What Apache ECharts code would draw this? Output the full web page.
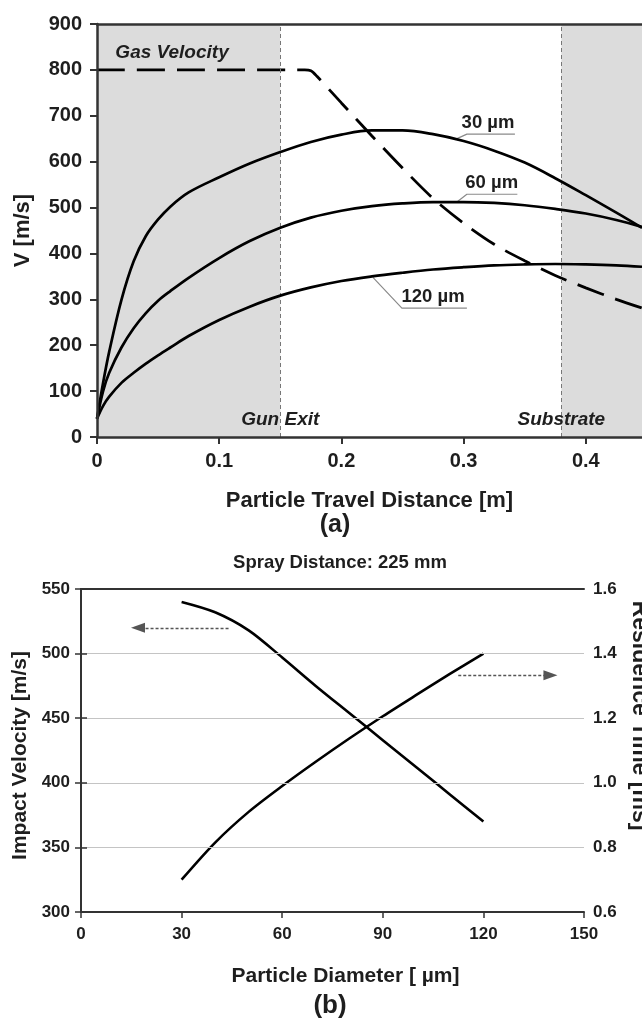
<!DOCTYPE html>
<html>
<head>
<meta charset="utf-8">
<script src="https://cdn.jsdelivr.net/npm/echarts@6/dist/echarts.min.js"></script>
<style>
html,body{margin:0;padding:0;background:#fff;}
#chart{width:642px;height:1020px;}
</style>
</head>
<body>
<div id="chart"></div>
<script>
// ---------- Panel (a): particle / gas velocity vs travel distance ----------
const distance = [0, 0.005, 0.01, 0.02, 0.03, 0.04, 0.05, 0.06, 0.075, 0.1, 0.125, 0.15, 0.175, 0.2, 0.225, 0.25, 0.275, 0.3, 0.325, 0.35, 0.375, 0.4, 0.425, 0.446];
const vel30  = [40, 118, 186, 299, 383, 438, 474, 502, 533, 566, 596, 621, 643, 659, 668, 668, 660, 645, 624, 598, 564, 527, 489, 456];
const vel60  = [40, 100, 140, 195, 237, 270, 297, 318, 347, 390, 427, 456, 478, 493, 503, 509, 512, 512, 510, 505, 497, 487, 473, 458];
const vel120 = [40, 68, 88, 118, 140, 160, 178, 195, 220, 255, 284, 308, 326, 340, 350, 358, 365, 370, 374, 376, 377, 376, 374, 371];
const gasDistance = [0, 0.17, 0.175, 0.18, 0.2, 0.225, 0.25, 0.275, 0.3, 0.325, 0.35, 0.375, 0.4, 0.425, 0.446];
const gasVel      = [800, 800, 798, 786, 728, 656, 586, 520, 466, 420, 384, 352, 325, 300, 281];
const gunExit = 0.15;
const substrate = 0.38;
const distTicks = ['0', '0.1', '0.2', '0.3', '0.4'];

// ---------- Panel (b): impact velocity & residence time vs diameter ----------
const diameter  = [30, 40, 50, 60, 70, 80, 90, 100, 110, 120];
const impactVel = [540, 532, 518, 497, 475, 454, 433, 412, 391, 370];
const residence = [0.70, 0.815, 0.91, 0.99, 1.065, 1.137, 1.206, 1.272, 1.337, 1.40];

const zip = (xs, ys) => xs.map((x, i) => [x, ys[i]]);

const BOLD = 'bold';
const FONT = 'Liberation Sans';
const AX = '#333';
const TXT = '#1e1e1e';

const chart = echarts.init(document.getElementById('chart'), null, {renderer: 'canvas'});

const leader = (pts) => ({
  type: 'line', xAxisIndex: 0, yAxisIndex: 0, data: pts, symbol: 'none', silent: true,
  lineStyle: {color: '#8a8a8a', width: 1.2}, z: 3, animation: false
});
const curve = (name, data) => ({
  name, type: 'line', xAxisIndex: 0, yAxisIndex: 0, data, smooth: 0.35, symbol: 'none',
  lineStyle: {color: '#000', width: 2.7}, z: 5, animation: false
});
const annoLabel = (extra) => Object.assign({
  show: true, position: 'inside', formatter: p => p.data[2], fontWeight: BOLD, color: TXT,
  fontFamily: FONT, textBorderWidth: 0, textShadowBlur: 0, opacity: 1
}, extra);

const option = {
  backgroundColor: '#fff',
  animation: false,
  textStyle: {fontFamily: FONT},
  grid: [
    {left: 97, top: 24, width: 545, height: 413, outerBoundsMode: 'none', containLabel: false},
    {left: 81, top: 589, width: 503, height: 323, outerBoundsMode: 'none', containLabel: false}
  ],
  xAxis: [
    {
      gridIndex: 0, type: 'value', min: 0, max: 0.446, interval: 0.1, z: 10,
      name: 'Particle Travel Distance [m]', nameLocation: 'middle', nameGap: 53,
      nameTextStyle: {fontSize: 22, fontWeight: BOLD, color: TXT, fontFamily: FONT},
      axisLine: {lineStyle: {color: AX, width: 2.5}},
      axisTick: {length: 7, lineStyle: {color: AX, width: 2}},
      axisLabel: {fontSize: 20, fontWeight: BOLD, color: TXT, margin: 14, showMaxLabel: false,
        formatter: v => { const s = distTicks.find(t => Math.abs(parseFloat(t) - v) < 1e-6); return s === undefined ? '' : s; }},
      splitLine: {show: false}
    },
    {
      gridIndex: 0, type: 'value', position: 'top', min: 0, max: 0.446, z: 10,
      axisLine: {lineStyle: {color: AX, width: 2.5}}, axisTick: {show: false}, axisLabel: {show: false}, splitLine: {show: false}
    },
    {
      gridIndex: 1, type: 'value', min: 0, max: 150, interval: 30, z: 10,
      name: 'Particle Diameter [ \u00b5m]', nameLocation: 'middle', nameGap: 54,
      nameTextStyle: {fontSize: 21, fontWeight: BOLD, color: TXT, fontFamily: FONT, padding: [0, 0, 0, 26]},
      axisLine: {lineStyle: {color: AX, width: 2}},
      axisTick: {length: 6, lineStyle: {color: AX, width: 1.5}},
      axisLabel: {fontSize: 17, fontWeight: BOLD, color: TXT, margin: 14},
      splitLine: {show: false}
    },
    {
      gridIndex: 1, type: 'value', position: 'top', min: 0, max: 150, z: 10,
      axisLine: {lineStyle: {color: AX, width: 2}}, axisTick: {show: false}, axisLabel: {show: false}, splitLine: {show: false}
    }
  ],
  yAxis: [
    {
      gridIndex: 0, type: 'value', min: 0, max: 900, interval: 100, z: 10,
      name: 'V [m/s]', nameLocation: 'middle', nameGap: 63, nameRotate: 90,
      nameTextStyle: {fontSize: 22, fontWeight: BOLD, color: TXT, fontFamily: FONT},
      axisLine: {lineStyle: {color: AX, width: 2.5}},
      axisTick: {length: 7, lineStyle: {color: AX, width: 2}},
      axisLabel: {fontSize: 20, fontWeight: BOLD, color: TXT, margin: 15},
      splitLine: {show: false}
    },
    {
      gridIndex: 1, type: 'value', min: 300, max: 550, interval: 50, z: 10,
      name: 'Impact Velocity [m/s]', nameLocation: 'middle', nameGap: 48, nameRotate: 90,
      nameTextStyle: {fontSize: 21, fontWeight: BOLD, color: TXT, fontFamily: FONT, padding: [0, 10, 0, 0]},
      axisLine: {lineStyle: {color: AX, width: 2}},
      axisTick: {length: 6, lineStyle: {color: AX, width: 1.5}},
      axisLabel: {fontSize: 17, fontWeight: BOLD, color: TXT, margin: 11},
      splitLine: {show: true, lineStyle: {color: '#c4c4c4', width: 1}}
    },
    {
      gridIndex: 1, type: 'value', position: 'right', min: 0.6, max: 1.6, interval: 0.2, z: 10,
      name: 'Residence Time [ms]', nameLocation: 'middle', nameGap: 44, nameRotate: -90,
      nameTextStyle: {fontSize: 23, fontWeight: BOLD, color: TXT, fontFamily: FONT, padding: [0, 70, 0, 0]},
      axisLine: {lineStyle: {color: AX, width: 2}},
      axisTick: {length: 6, lineStyle: {color: AX, width: 1.5}},
      axisLabel: {fontSize: 17, fontWeight: BOLD, color: TXT, margin: 9, formatter: v => v.toFixed(1)},
      splitLine: {show: false}
    }
  ],
  graphic: [
    {type: 'text', x: 335, y: 525, style: {text: '(a)', fontSize: 25, fontWeight: BOLD, fontFamily: FONT, fill: TXT, textAlign: 'center', textVerticalAlign: 'middle'}},
    {type: 'text', x: 340, y: 563, style: {text: 'Spray Distance: 225 mm', fontSize: 18.5, fontWeight: BOLD, fontFamily: FONT, fill: TXT, textAlign: 'center', textVerticalAlign: 'middle'}},
    {type: 'text', x: 330, y: 1006, style: {text: '(b)', fontSize: 26, fontWeight: BOLD, fontFamily: FONT, fill: TXT, textAlign: 'center', textVerticalAlign: 'middle'}}
  ],
  series: [
    {
      name: 'Gas Velocity', type: 'line', xAxisIndex: 0, yAxisIndex: 0,
      data: zip(gasDistance, gasVel), smooth: 0.3, symbol: 'none', z: 4,
      lineStyle: {color: '#000', width: 2.8, type: [28, 12]},
      markArea: {
        silent: true, itemStyle: {color: '#dcdcdc'},
        data: [[{xAxis: 0}, {xAxis: gunExit}], [{xAxis: substrate}, {xAxis: 0.446}]]
      },
      markLine: {
        silent: true, symbol: 'none', label: {show: false},
        lineStyle: {color: '#777', width: 1, type: [4, 3]},
        data: [{xAxis: gunExit}, {xAxis: substrate}]
      }
    },
    curve('30 \u00b5m', zip(distance, vel30)),
    curve('60 \u00b5m', zip(distance, vel60)),
    curve('120 \u00b5m', zip(distance, vel120)),
    leader([[0.2928, 648], [0.3027, 660], [0.342, 660]]),
    leader([[0.2945, 512], [0.3027, 529], [0.344, 529]]),
    leader([[0.2258, 348], [0.2495, 281], [0.3027, 281]]),
    {
      type: 'scatter', xAxisIndex: 0, yAxisIndex: 0, symbolSize: 0, silent: true, z: 6,
      itemStyle: {opacity: 1},
      data: [[0.320, 684, '30 \u00b5m'], [0.323, 553, '60 \u00b5m'], [0.275, 305, '120 \u00b5m']],
      label: annoLabel({fontSize: 18.5})
    },
    {
      type: 'scatter', xAxisIndex: 0, yAxisIndex: 0, symbolSize: 0, silent: true, z: 6,
      itemStyle: {opacity: 1},
      data: [[0.0614, 837, 'Gas Velocity'], [gunExit, 37, 'Gun Exit'], [substrate, 37, 'Substrate']],
      label: annoLabel({fontSize: 19, fontStyle: 'italic'})
    },
    {
      name: 'Impact Velocity', type: 'line', xAxisIndex: 2, yAxisIndex: 1,
      data: zip(diameter, impactVel), smooth: 0.3, symbol: 'none',
      lineStyle: {color: '#000', width: 2.6}, z: 5,
      markLine: {
        silent: true, symbol: ['none', 'triangle'], symbolSize: [10, 14], label: {show: false},
        lineStyle: {color: '#555', width: 1.3, type: [3, 2]},
        data: [[{coord: [44, 520]}, {coord: [17, 520]}]]
      }
    },
    {
      name: 'Residence Time', type: 'line', xAxisIndex: 2, yAxisIndex: 2,
      data: zip(diameter, residence), smooth: 0.3, symbol: 'none',
      lineStyle: {color: '#000', width: 2.6}, z: 5,
      markLine: {
        silent: true, symbol: ['none', 'triangle'], symbolSize: [10, 14], label: {show: false},
        lineStyle: {color: '#555', width: 1.3, type: [3, 2]},
        data: [[{coord: [112.5, 1.333]}, {coord: [140, 1.333]}]]
      }
    }
  ]
};
chart.setOption(option);
</script>
</body>
</html>
